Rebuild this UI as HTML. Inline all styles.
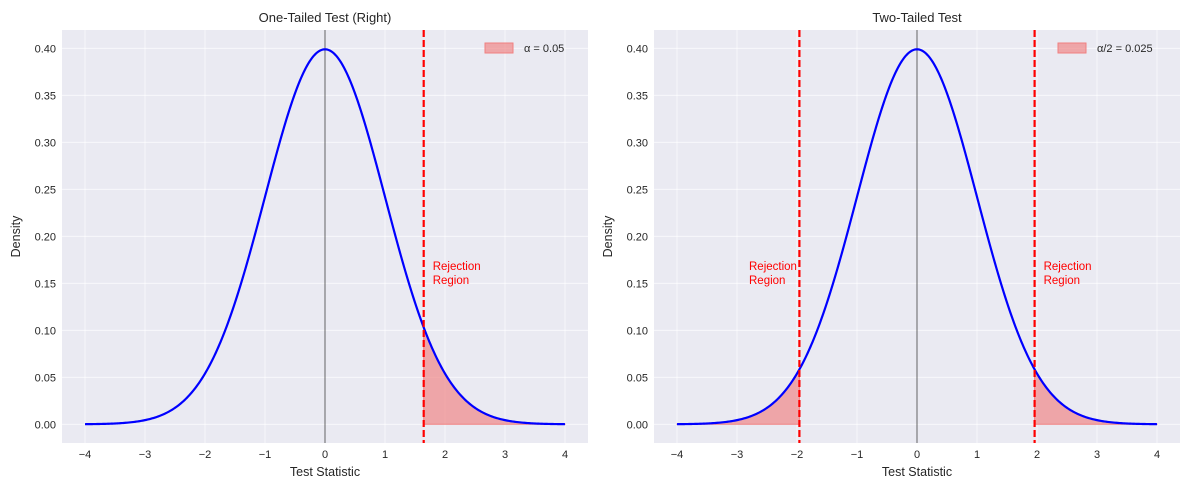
<!DOCTYPE html>
<html><head><meta charset="utf-8"><style>
body{margin:0;background:#fff;font-family:"Liberation Sans","DejaVu Sans",sans-serif}
svg text{font-family:"Liberation Sans","DejaVu Sans",sans-serif}
</style></head><body>
<svg id="s" width="1189" height="490" xmlns="http://www.w3.org/2000/svg"></svg>
<script>
const s=document.getElementById('s');let h='';
function pdf(x){return Math.exp(-x*x/2)/Math.sqrt(2*Math.PI);}
function panel(off,title,crit,two,leg){
 const L=62+off,R=588+off,T=30,B=443,X=v=>325+off+60*v,Y=v=>424.3-940*v;
 h+=`<rect x="${L}" y="${T}" width="${R-L}" height="${B-T}" fill="#eaeaf2"/>`;
 for(let i=-4;i<=4;i++){h+=`<line x1="${X(i)}" x2="${X(i)}" y1="${T}" y2="${B}" stroke="#fff" stroke-width="0.8" opacity="0.8"/>`;
  h+=`<text x="${X(i)}" y="${B+15}" font-size="11" fill="#262626" text-anchor="middle">${i<0?'\u2212'+(-i):i}</text>`;}
 for(let k=0;k<=8;k++){const v=k*0.05;h+=`<line x1="${L}" x2="${R}" y1="${Y(v)}" y2="${Y(v)}" stroke="#fff" stroke-width="0.8" opacity="0.8"/>`;
  h+=`<text x="${L-6}" y="${Y(v)+4}" font-size="11" fill="#262626" text-anchor="end">${v.toFixed(2)}</text>`;}
 function fill(a,b){let p=`M${X(a)},${Y(0)}`;for(let i=0;i<=100;i++){const x=a+(b-a)*i/100;p+=`L${X(x).toFixed(2)},${Y(pdf(x)).toFixed(2)}`;}p+=`L${X(b)},${Y(0)}Z`;h+=`<path d="${p}" fill="#f08080" fill-opacity="0.65" stroke="#f08080" stroke-width="1"/>`;}
 fill(crit,4);if(two)fill(-4,-crit);
 h+=`<line x1="${X(0)}" x2="${X(0)}" y1="${T}" y2="${B}" stroke="#000" stroke-width="0.6"/>`;
 let p='';for(let i=0;i<=400;i++){const x=-4+8*i/400;p+=(i?'L':'M')+X(x).toFixed(2)+','+Y(pdf(x)).toFixed(2);}
 h+=`<path d="${p}" fill="none" stroke="#0000ff" stroke-width="2.2"/>`;
 const cl=[crit];if(two)cl.push(-crit);
 cl.forEach(c=>{h+=`<line x1="${X(c)}" x2="${X(c)}" y1="${T}" y2="${B}" stroke="#ff0000" stroke-width="2.2" stroke-dasharray="7,3"/>`;});
 const an=[X(crit)+9];if(two)an.push(X(-2.8));
 an.forEach(a=>{h+=`<text x="${a}" y="270" font-size="11.5" fill="#ff0000">Rejection</text><text x="${a}" y="284" font-size="11.5" fill="#ff0000">Region</text>`;});
 const lx=two?1058:485;
 h+=`<rect x="${lx}" y="43" width="28" height="10" fill="#f08080" fill-opacity="0.65" stroke="#f08080"/><text x="${lx+39}" y="52" font-size="11" fill="#262626">${leg}</text>`;
 h+=`<text x="${(L+R)/2}" y="22" font-size="13" fill="#262626" text-anchor="middle">${title}</text>`;
 h+=`<text x="${(L+R)/2}" y="476" font-size="12.5" fill="#262626" text-anchor="middle">Test Statistic</text>`;
 h+=`<text transform="translate(${L-42},${(T+B)/2}) rotate(-90)" font-size="12.5" fill="#262626" text-anchor="middle">Density</text>`;
}
panel(0,'One-Tailed Test (Right)',1.645,false,'\u03b1 = 0.05');
panel(592,'Two-Tailed Test',1.96,true,'\u03b1/2 = 0.025');
s.innerHTML=h;
</script>
</body></html>
